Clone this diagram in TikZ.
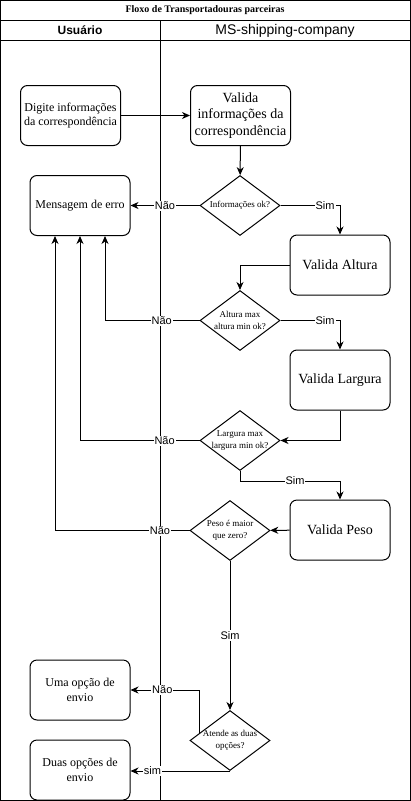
\documentclass[tikz,border=0pt]{standalone}
\usepackage{fontspec}
\setmainfont{Liberation Serif}
\setsansfont{Liberation Sans}
\usepackage{tikz}
\usetikzlibrary{arrows.meta,positioning,shapes,calc}

\begin{document}
\begin{tikzpicture}[x=1pt, y=-1pt, line width=1pt,
    etapa/.style={draw, rounded corners=7pt, minimum width=100pt, minimum height=60pt, align=center, font=\fontsize{12}{14.5}\selectfont},
    valida/.style={etapa, font=\fontsize{14}{16.7}\selectfont},
    decisao/.style={draw, diamond, minimum width=80pt, minimum height=60pt, inner sep=0pt},
    dectxt/.style={align=center, inner sep=0pt, font=\fontsize{9}{12}\selectfont},
    seta/.style={-{Stealth[length=8pt,width=7pt,inset=2.5pt]}},
    rotulo/.style={fill=white, inner sep=1pt, font=\sffamily\fontsize{11}{13}\selectfont}]

\useasboundingbox (0,0) rectangle (411,801);

% Pool and lanes
\draw (0.5,0.5) rectangle (410,800);
\draw (0.5,20.5) -- (410,20.5);
\draw (0.5,40.5) -- (410,40.5);
\draw (160.5,20.5) -- (160.5,800);
\node[font=\bfseries\fontsize{10}{12}\selectfont] (titulo) at (205,10.5) {Floxo de Transportadouras parceiras};
\node[font=\sffamily\bfseries\fontsize{12}{14}\selectfont] (usuario) at (80,30.5) {Usuário};
\node[font=\sffamily\fontsize{14}{16}\selectfont] (ms) at (285,30.5) {MS-shipping-company};

% Steps
\node[etapa] (dig) at (70.5,115.5) {Digite informações\\da correspondência};
\node[valida] (vinf) at (240.5,115.5) {Valida\\informações da\\correspondência};
\node[etapa] (err) at (80,205.5) {Mensagem de erro};
\node[valida] (alt) at (340,265) {Valida Altura};
\node[valida] (larg) at (340,380) {Valida Largura};
\node[valida] (peso) at (340,530) {Valida Peso};
\node[etapa] (uma) at (80,690) {Uma opção de\\envio};
\node[etapa] (duas) at (80,770) {Duas opções de\\envio};

% Decisions
\node[decisao, label={[dectxt]center:Informações ok?}] (d1) at (240,205.5) {};
\node[decisao, label={[dectxt]center:Altura max\\altura min ok?}] (d2) at (240,320.5) {};
\node[decisao, label={[dectxt]center:Largura max\\largura min ok?}] (d3) at (240,440.5) {};
\node[decisao, label={[dectxt]center:Peso é maior\\que zero?}] (d4) at (230,530.5) {};
\node[decisao, label={[dectxt]center:Atende as duas\\opções?}] (d5) at (230,740.5) {};

% Entry points under the error box
\coordinate (e1) at ([xshift=-25pt]err.south);
\coordinate (e2) at (err.south);
\coordinate (e3) at ([xshift=25pt]err.south);
\coordinate (d5n) at ($(d5.west)!0.25!(d5.north)$);

% Flow
\draw[seta] (dig) -- (vinf);
\draw[seta] (vinf) -- (d1);
\draw[seta] (d1) -- node[rotulo]{Não} (err);
\draw[seta] (d1.east) -| node[rotulo,pos=0.375]{Sim} (alt.north);
\draw[seta] (alt.west) -| (d2.north);
\draw[seta] (d2.west) -| node[rotulo,pos=0.2]{Não} (e3);
\draw[seta] (d2.east) -| node[rotulo,pos=0.375]{Sim} (larg.north);
\draw[seta] (larg.south) |- (d3.east);
\draw[seta] (d3.west) -| node[rotulo,pos=0.146]{Não} (e2);
\draw[seta] (d3.south) -- ++(0,10) -| node[rotulo,pos=0.275]{Sim} (peso.north);
\draw[seta] (peso) -- (d4);
\draw[seta] (d4.west) -| node[rotulo,pos=0.11]{Não} (e1);
\draw[seta] (d4) -- node[rotulo]{Sim} (d5);
\draw[seta] (d5n) |- node[rotulo,pos=0.77]{Não} (uma.east);
\draw[seta] (d5.south) -- node[rotulo,pos=0.78]{sim} (d5.south -| duas.east);

\end{tikzpicture}
\end{document}
